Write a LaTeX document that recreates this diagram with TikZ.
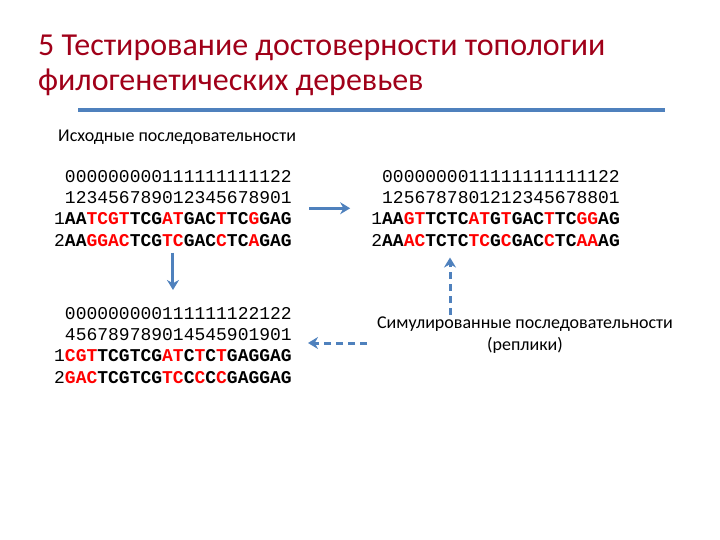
\documentclass[tikz,border=0pt]{standalone}
\usepackage{fontspec}
\setmainfont{Carlito}
\setmonofont{Liberation Mono}
\usetikzlibrary{positioning, arrows.meta}
\definecolor{titlered}{RGB}{160,0,25}
\definecolor{ppblue}{RGB}{79,129,189}
\newcommand{\mut}[1]{\textcolor{red}{#1}}
\newcommand{\sq}[1]{\textbf{#1}}
\tikzstyle{titletext} = [align=left, anchor=north west, inner sep=0pt, text=titlered, font=\fontsize{32}{35}\selectfont]
\tikzstyle{plaintext} = [align=center, inner sep=0pt, font=\fontsize{18}{22}\selectfont]
\tikzstyle{seqblock} = [align=right, anchor=north east, inner sep=0pt, font=\ttfamily\fontsize{18}{21.3}\selectfont]
\tikzstyle{arrow} = [line width=3pt, draw=ppblue, -{Stealth[length=10pt,width=12pt]}]
\tikzstyle{dasharrow} = [arrow, dash pattern=on 7pt off 5pt]

\begin{document}
\begin{tikzpicture}[x=1pt, y=-1pt]
        \useasboundingbox (0,0) rectangle (720,540);
        \node (title) [titletext] at (38,35) {5 Тестирование достоверности топологии\\филогенетических деревьев};
        \draw [ppblue, line width=4pt] (78,110) -- (665,110);
        \node (src) [plaintext, anchor=west] at (58,137) {Исходные последовательности};

        \node (orig) [seqblock] at (292,170) {000000000111111111122\\123456789012345678901\\
            1\sq{AA\mut{TCGT}TCG\mut{AT}GAC\mut{T}TC\mut{G}GAG}\\
            2\sq{AA\mut{GGAC}TCG\mut{TC}GAC\mut{C}TC\mut{A}GAG}};
        \node (boot) [seqblock] at (620,170) {0000000011111111111122\\1256787801212345678801\\
            1\sq{AA\mut{GT}TCTC\mut{AT}G\mut{T}GAC\mut{T}TC\mut{GG}AG}\\
            2\sq{AA\mut{AC}TCTC\mut{TC}G\mut{C}GAC\mut{C}TC\mut{AA}AG}};
        \node (replic) [seqblock] at (292,307) {000000000111111122122\\456789789014545901901\\
            1\sq{\mut{CGT}TCGTCG\mut{AT}C\mut{T}C\mut{T}GAGGAG}\\
            2\sq{\mut{GAC}TCGTCG\mut{TC}C\mut{C}C\mut{C}GAGGAG}};
        \node (sim) [plaintext] at (525,335) {Симулированные последовательности\\(реплики)};

        \coordinate (simtop) at (450,315);
        \coordinate (simleft) at (367,343);

        \draw [arrow, shorten <=17pt, shorten >=21pt] (orig) -- (boot);
        \draw [arrow, shorten <=6pt, shorten >=17pt] (orig) -- (replic);
        \draw [dasharrow, shorten >=11pt] (simtop) -- (simtop |- boot.south);
        \draw [dasharrow, shorten >=16pt] (simleft) -- (simleft -| replic.east);
    \end{tikzpicture}
\end{document}
